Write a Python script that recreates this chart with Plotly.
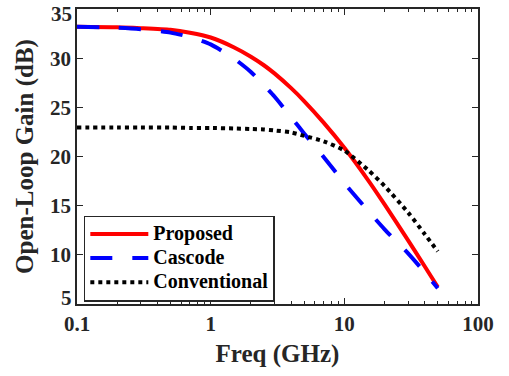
import plotly.graph_objects as go

freq = [0.1, 0.2, 0.3, 0.5, 0.7, 1, 1.5, 2, 2.5, 3, 4, 5, 7, 10, 15, 20, 30, 40, 50]
proposed = [33.2, 33.15, 33.05, 32.88, 32.58, 32.1, 31.09, 30.15, 29.28, 28.45, 26.95, 25.64, 23.45, 20.89, 17.63, 15.13, 11.47, 8.81, 6.73]
cascode = [33.2, 33.1, 32.95, 32.6, 32.15, 31.4, 29.95, 28.6, 27.25, 26.1, 24.0, 22.35, 19.95, 17.3, 14.5, 12.6, 10.15, 8.2, 6.6]
conventional = [22.95, 22.95, 22.95, 22.95, 22.9, 22.9, 22.85, 22.8, 22.75, 22.65, 22.45, 22.1, 21.55, 20.6, 18.65, 17.0, 14.3, 12.1, 10.35]
series_names = ["Proposed", "Cascode", "Conventional"]

x_ticks = [0.1, 1, 10, 100]
x_tick_text = ["0.1", "1", "10", "100"]
y_ticks = [5, 10, 15, 20, 25, 30, 35]
minor_x = [m * d for d in (0.1, 1, 10) for m in range(2, 10)]

FONT = "Times New Roman, Liberation Serif, serif"
AXC = "#262626"
TICKFONT = dict(family=FONT, size=21, color="#262626", weight="bold")
TITLEFONT = dict(family=FONT, size=25, color="#262626", weight="bold")


def legend_label(s):
    return "<span style='font-size:20px'>" + s + "</span>"


fig = go.Figure()
fig.add_trace(go.Scatter(x=freq, y=proposed, name=legend_label(series_names[0]), mode="lines",
                         line=dict(color="#ff0000", width=4, shape="spline", smoothing=0.6)))
fig.add_trace(go.Scatter(x=freq, y=cascode, name=legend_label(series_names[1]), mode="lines",
                         line=dict(color="#0000ff", width=4, dash="22px,20px", shape="spline", smoothing=0.6)))
fig.add_trace(go.Scatter(x=freq, y=conventional, name=legend_label(series_names[2]), mode="lines",
                         line=dict(color="#000000", width=4, dash="4px,4px", shape="spline", smoothing=0.6)))

# end labels of the y axis sit just inside the axis span (as in the reference)
y_tick_text = [str(v) for v in y_ticks]
inner_text = [""] + y_tick_text[1:-1] + [""]
for val, txt, shift in [(y_ticks[0], y_tick_text[0], 6), (y_ticks[-1], y_tick_text[-1], -5)]:
    fig.add_annotation(x=0, xref="paper", y=val, yref="y", text=txt, showarrow=False,
                       xanchor="right", yanchor="middle", xshift=-3, yshift=shift,
                       font=TICKFONT)

fig.update_layout(
    width=509, height=376,
    margin=dict(l=77, r=31, t=9, b=72),
    paper_bgcolor="white", plot_bgcolor="white",
    font=dict(family=FONT, color="#262626", size=18, weight="bold"),
    showlegend=True,
    legend=dict(x=0.017, y=0.30, xanchor="left", yanchor="top",
                bgcolor="white", bordercolor="#262626", borderwidth=1.5,
                font=dict(family=FONT, size=16.2, color="black", weight="bold"),
                itemwidth=58, tracegroupgap=0),
)
fig.update_xaxes(
    type="log", range=[-1, 2],
    tickvals=x_ticks, ticktext=x_tick_text,
    ticks="inside", ticklen=6, tickwidth=1, tickcolor=AXC,
    minor=dict(tickmode="array", tickvals=minor_x, ticks="inside", ticklen=3, tickcolor=AXC, tickwidth=1, showgrid=False),
    showline=True, linecolor=AXC, linewidth=1.5, mirror="allticks",
    showgrid=False, zeroline=False, automargin=False, ticklabeloverflow="allow",
    tickfont=TICKFONT,
    title=dict(text="Freq (GHz)", font=TITLEFONT, standoff=10),
)
fig.update_yaxes(
    range=[5, 35], tickvals=y_ticks, ticktext=inner_text,
    ticks="inside", ticklen=6, tickwidth=1, tickcolor=AXC,
    showline=True, linecolor=AXC, linewidth=1.5, mirror="allticks",
    showgrid=False, zeroline=False, automargin=False, ticklabeloverflow="allow",
    tickfont=TICKFONT,
    title=dict(text="Open-Loop Gain (dB)", font=TITLEFONT, standoff=9),
)

fig.write_html("out.html", config={"displayModeBar": False},
               post_script="document.body.style.margin='0';document.body.style.overflow='hidden';")
